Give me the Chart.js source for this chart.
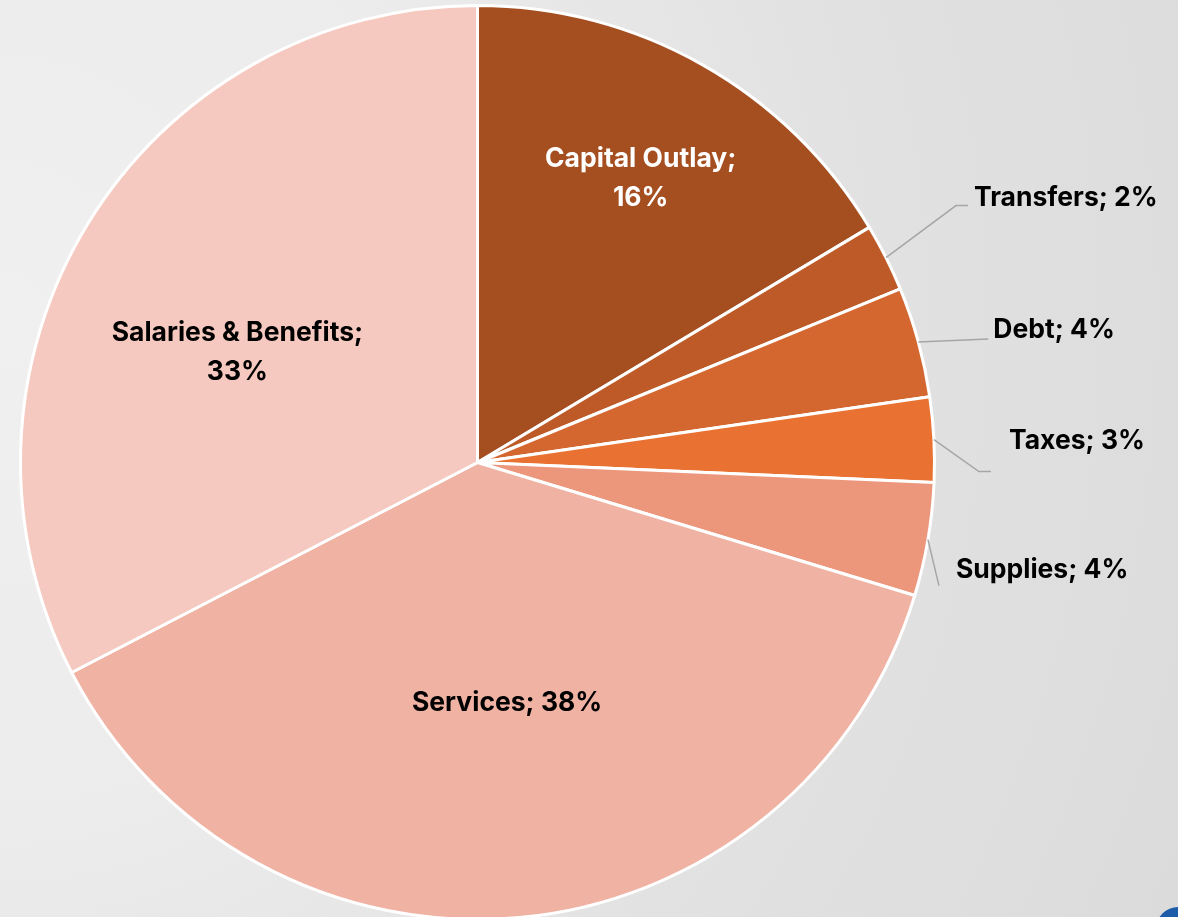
<!DOCTYPE html>
<html>
<head>
<meta charset="utf-8">
<script src="https://cdn.jsdelivr.net/npm/chart.js@4"></script>
<style>
  html, body { margin: 0; padding: 0; width: 1178px; height: 917px; overflow: hidden; }
  body { background: radial-gradient(ellipse 1300px 1400px at 0% 35%, #f0f0f0 0%, #ececec 35%, #e2e2e2 65%, #dbdbdb 100%); position: relative; }
  #wrap { position: absolute; left: 0; top: 0; width: 1178px; height: 930px; }
  #badge { position: absolute; left: 1156px; top: 907px; width: 44px; height: 44px; border-radius: 50%; background: #1d5ca8; }
</style>
</head>
<body>
<div id="wrap"><canvas id="budgetPie"></canvas></div>
<div id="badge"></div>
<script>
// Budget share by category (percent), clockwise from 12 o'clock
const categories = ['Capital Outlay', 'Transfers', 'Debt', 'Taxes', 'Supplies', 'Services', 'Salaries & Benefits'];
const shares = [16.4, 2.4, 3.9, 3.0, 4.0, 37.7, 32.6];
const shownPct = ['16%', '2%', '4%', '3%', '4%', '38%', '33%'];
const sliceColors = ['#a54f21', '#be5a27', '#d4672f', '#e97233', '#ec967c', '#f0b2a3', '#f5c9bf'];

// label placement per slice (styling only)
// inside: polar position from pie centre (radius factor, angle shift in deg)
// outside: leader line offsets from the arc edge at the slice mid-angle
const labelStyle = [
  { inside: true, r: 0.716, shift: 0.4, color: '#ffffff', lines: ['Capital Outlay;', '16%'] },
  { inside: false, leader: [[70, -52], [82, -52]], text: [88, -60] },
  { inside: false, leader: [[70, -3]], text: [75, -12] },
  { inside: false, leader: [[45, 32], [57, 32]], text: [75, 1] },
  { inside: false, leader: [[11, 46]], text: [28, 30] },
  { inside: true, r: 0.53, shift: -1.8, color: '#000000', lines: ['Services; 38%'] },
  { inside: true, r: 0.578, shift: -6.7, color: '#000000', lines: ['Salaries & Benefits;', '33%'] }
];

const pieLabels = {
  id: 'pieLabels',
  afterDatasetsDraw(chart) {
    const ctx = chart.ctx;
    const arcs = chart.getDatasetMeta(0).data;
    ctx.save();
    ctx.font = 'bold 26.5px Inter, Roboto, "Liberation Sans", sans-serif';
    arcs.forEach((arc, i) => {
      const { x, y, startAngle, endAngle, outerRadius } = arc.getProps(['x', 'y', 'startAngle', 'endAngle', 'outerRadius'], true);
      const mid = (startAngle + endAngle) / 2;
      const st = labelStyle[i];
      if (st.inside) {
        const a = mid + st.shift * Math.PI / 180;
        const cx = x + Math.cos(a) * outerRadius * st.r;
        const cy = y + Math.sin(a) * outerRadius * st.r;
        ctx.fillStyle = st.color;
        ctx.textAlign = 'center';
        ctx.textBaseline = 'middle';
        const lh = 39;
        const top = cy - (st.lines.length - 1) * lh / 2;
        st.lines.forEach((ln, k) => ctx.fillText(ln, cx, top + k * lh));
      } else {
        const ex = x + Math.cos(mid) * outerRadius;
        const ey = y + Math.sin(mid) * outerRadius;
        ctx.strokeStyle = '#a6a6a6';
        ctx.lineWidth = 1.5;
        ctx.beginPath();
        ctx.moveTo(ex, ey);
        st.leader.forEach(p => ctx.lineTo(ex + p[0], ey + p[1]));
        ctx.stroke();
        ctx.fillStyle = '#000000';
        ctx.textAlign = 'left';
        ctx.textBaseline = 'middle';
        ctx.fillText(categories[i] + '; ' + shownPct[i], ex + st.text[0], ey + st.text[1]);
      }
    });
    ctx.restore();
  }
};

new Chart(document.getElementById('budgetPie'), {
  type: 'pie',
  data: {
    labels: categories,
    datasets: [{
      data: shares,
      backgroundColor: sliceColors,
      borderColor: '#ffffff',
      borderWidth: 3
    }]
  },
  options: {
    responsive: true,
    maintainAspectRatio: false,
    animation: false,
    layout: { padding: { left: 19, top: 4, right: 242, bottom: 9 } },
    plugins: {
      legend: { display: false },
      tooltip: { enabled: false }
    }
  },
  plugins: [pieLabels]
});
</script>
</body>
</html>
